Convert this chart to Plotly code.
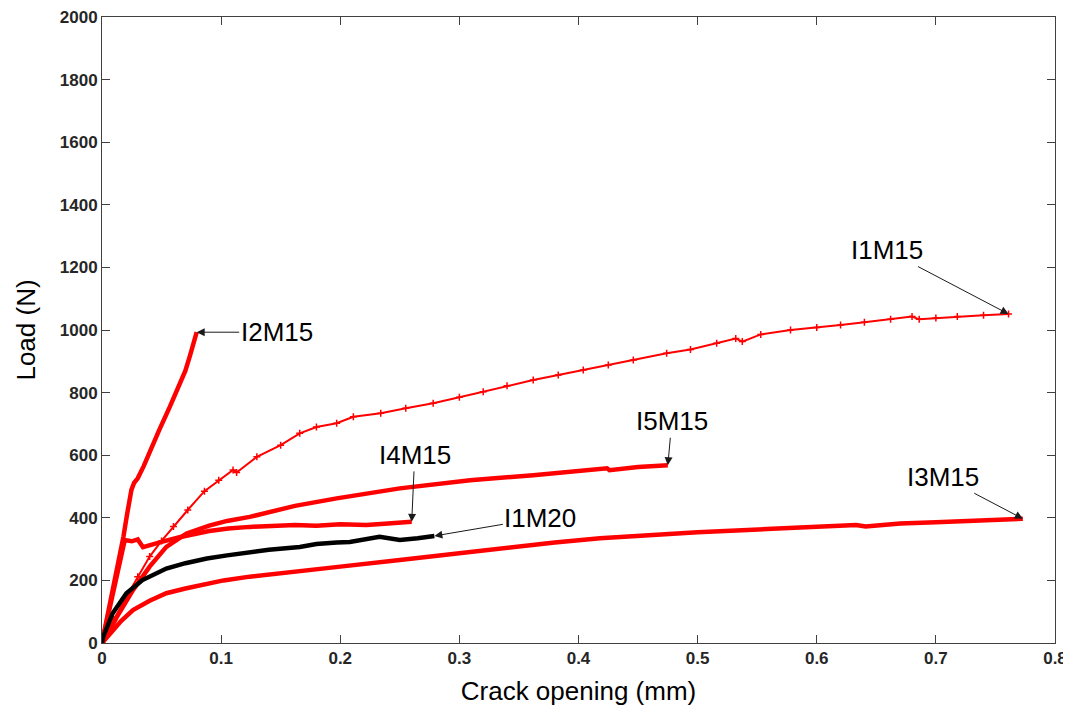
import plotly.graph_objects as go

# ---- data (crack opening in mm, load in N) ----
i1m15_x = [0, 0.005, 0.010, 0.020, 0.030, 0.040, 0.050, 0.060, 0.072, 0.086, 0.098, 0.110, 0.113,
           0.130, 0.150, 0.166, 0.180, 0.197, 0.211, 0.234, 0.255, 0.278, 0.300, 0.320, 0.340,
           0.362, 0.383, 0.404, 0.425, 0.446, 0.474, 0.494, 0.516, 0.532, 0.5375, 0.553, 0.578,
           0.600, 0.620, 0.640, 0.662, 0.680, 0.686, 0.700, 0.718, 0.740, 0.761]
i1m15_y = [0, 38, 75, 145, 212, 276, 326, 372, 425, 485, 520, 553, 545,
           595, 632, 670, 690, 702, 723, 734, 750, 766, 785, 803, 822,
           840, 856, 872, 888, 904, 926, 938, 958, 973, 963, 986, 1000,
           1008, 1016, 1025, 1034, 1043, 1034, 1038, 1043, 1047, 1051]

i2m15_x = [0, 0.004, 0.008, 0.012, 0.0149, 0.018, 0.021, 0.0247, 0.027, 0.030, 0.035, 0.040,
           0.048, 0.057, 0.065, 0.070, 0.074, 0.0795]
i2m15_y = [0, 75, 150, 225, 276, 340, 410, 489, 512, 526, 565, 606,
           680, 755, 829, 870, 920, 993]

i3m15_x = [0, 0.004, 0.0093, 0.016, 0.026, 0.040, 0.054, 0.070, 0.082, 0.102, 0.124, 0.150,
           0.170, 0.200, 0.250, 0.300, 0.334, 0.380, 0.418, 0.460, 0.500, 0.558, 0.600, 0.633,
           0.641, 0.670, 0.700, 0.728, 0.773]
i3m15_y = [0, 20, 41, 70, 105, 135, 159, 174, 185, 200, 212, 222,
           230, 244, 265, 287, 303, 321, 335, 346, 354, 364, 370, 377,
           372, 382, 386, 390, 397]

i4m15_x = [0, 0.005, 0.010, 0.015, 0.0191, 0.025, 0.030, 0.0344, 0.040, 0.050, 0.065, 0.078,
           0.090, 0.106, 0.124, 0.162, 0.180, 0.200, 0.222, 0.240, 0.260]
i4m15_y = [0, 85, 170, 255, 329, 325, 331, 306, 313, 323, 338, 350,
           358, 366, 371, 377, 375, 379, 377, 382, 387]

i5m15_x = [0, 0.005, 0.012, 0.026, 0.040, 0.054, 0.071, 0.090, 0.105, 0.124, 0.162, 0.197,
           0.250, 0.286, 0.309, 0.362, 0.400, 0.424, 0.426, 0.450, 0.475]
i5m15_y = [0, 30, 80, 169, 244, 307, 350, 375, 390, 403, 438, 462,
           494, 510, 520, 536, 548, 558, 552, 562, 568]

i1m20_x = [0, 0.001, 0.009, 0.0205, 0.034, 0.054, 0.070, 0.088, 0.105, 0.124, 0.140, 0.166,
           0.180, 0.197, 0.208, 0.233, 0.250, 0.265, 0.279]
i1m20_y = [0, 20, 95, 159, 201, 238, 255, 270, 280, 290, 298, 307,
           316, 321, 323, 339, 329, 335, 342]

x_ticks = [0, 0.1, 0.2, 0.3, 0.4, 0.5, 0.6, 0.7, 0.8]
x_tick_labels = ["0", "0.1", "0.2", "0.3", "0.4", "0.5", "0.6", "0.7", "0.8"]
y_ticks = [0, 200, 400, 600, 800, 1000, 1200, 1400, 1600, 1800, 2000]

labels = ["I1M15", "I2M15", "I3M15", "I4M15", "I5M15", "I1M20"]
# label offsets (pixels) of text relative to curve end point
label_ax = [-122, 80, -80, 3, 4, 106]
label_ay = [-64, 0, -42, -67, -44, -18]

RED = "#FF0000"
FONT = "Liberation Sans, Arial, sans-serif"

fig = go.Figure()

fig.add_trace(go.Scatter(x=i1m15_x, y=i1m15_y, mode="lines+markers", name="I1M15",
                         line=dict(color=RED, width=2),
                         marker=dict(symbol="cross-thin", size=5, line=dict(width=1.5, color=RED))))
fig.add_trace(go.Scatter(x=i2m15_x, y=i2m15_y, mode="lines", name="I2M15",
                         line=dict(color=RED, width=4.5)))
fig.add_trace(go.Scatter(x=i3m15_x, y=i3m15_y, mode="lines", name="I3M15",
                         line=dict(color=RED, width=4.5)))
fig.add_trace(go.Scatter(x=i4m15_x, y=i4m15_y, mode="lines", name="I4M15",
                         line=dict(color=RED, width=4.5)))
fig.add_trace(go.Scatter(x=i5m15_x, y=i5m15_y, mode="lines", name="I5M15",
                         line=dict(color=RED, width=4.5)))
fig.add_trace(go.Scatter(x=i1m20_x, y=i1m20_y, mode="lines", name="I1M20",
                         line=dict(color="black", width=4.5)))

ends = [(i1m15_x[-1], i1m15_y[-1]), (i2m15_x[-1], i2m15_y[-1]), (i3m15_x[-1], i3m15_y[-1]),
        (i4m15_x[-1], i4m15_y[-1]), (i5m15_x[-1], i5m15_y[-1]), (i1m20_x[-1], i1m20_y[-1])]

for lab, (ex, ey), ax, ay in zip(labels, ends, label_ax, label_ay):
    fig.add_annotation(x=ex, y=ey, text=lab, showarrow=True, ax=ax, ay=ay,
                       arrowhead=2, arrowsize=1.6, arrowwidth=1, arrowcolor="#1a1a1a",
                       font=dict(family=FONT, size=26, color="black"))

axis_common = dict(showline=True, linecolor="#404040", linewidth=1, mirror="ticks",
                   ticks="inside", ticklen=8, tickcolor="#404040", showgrid=False, zeroline=False,
                   automargin=False, ticklabeloverflow="allow",
                   tickfont=dict(family=FONT, size=17, color="#262626", weight="bold"))

fig.update_xaxes(range=[0, 0.8], tickvals=x_ticks, ticktext=x_tick_labels,
                 title=dict(text="Crack opening (mm)", standoff=14,
                            font=dict(family=FONT, size=26, color="black")),
                 **axis_common)
fig.update_yaxes(range=[0, 2000], tickvals=y_ticks,
                 title=dict(text="Load (N)", standoff=16,
                            font=dict(family=FONT, size=26, color="black")),
                 **axis_common)

# the page body adds an 8 px offset, so the figure is sized/margined to compensate
fig.update_layout(width=1063, height=700, showlegend=False,
                  plot_bgcolor="white", paper_bgcolor="white",
                  margin=dict(l=94, r=16, t=9, b=65))

fig.write_html("out.html")
